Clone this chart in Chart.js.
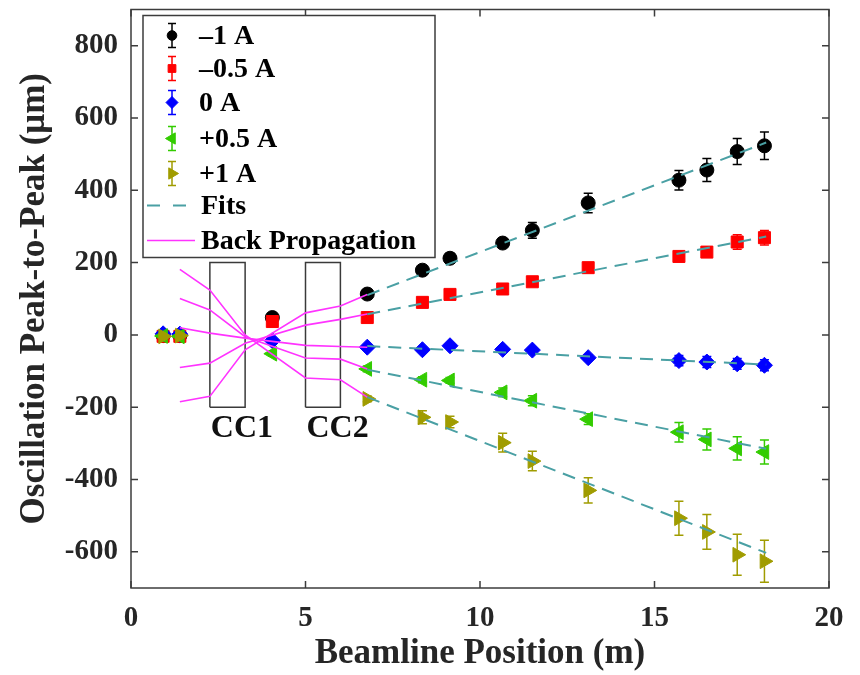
<!DOCTYPE html>
<html>
<head>
<meta charset="utf-8">
<script src="https://cdn.jsdelivr.net/npm/chart.js@4.4.1/dist/chart.umd.min.js"></script>
<style>
html,body{margin:0;padding:0;background:#ffffff;}
#wrap{width:860px;height:675px;position:relative;}
</style>
</head>
<body>
<div id="wrap"><canvas id="c" width="860" height="675"></canvas></div>
<script>
// ---------------- data ----------------
const xPos = [0.92, 1.4, 4.05, 6.77, 8.35, 9.14, 10.65, 11.5, 13.1, 15.7, 16.5, 17.37, 18.15];

const minus1A     = [-2, -2, 48, 113, 179, 212, 254, 289, 365, 428, 456, 507, 523];
const minus1AErr  = [5, 5, 6, 8, 8, 14, 12, 22, 27, 27, 32, 36, 38];
const minus05A    = [-4, -4, 37, 48, 90, 112, 127, 147, 186, 217, 229, 257, 269];
const minus05AErr = [4, 4, 5, 5, 5, 6, 6, 6, 8, 10, 12, 20, 20];
const zeroA       = [3, 2, -16, -34, -41, -30, -40, -42, -63, -71, -75, -80, -84];
const zeroAErr    = [4, 4, 5, 5, 6, 6, 7, 7, 8, 14, 15, 15, 15];
const plus05A     = [-3, -4, -52, -94, -124, -126, -159, -182, -233, -269, -289, -314, -324];
const plus05AErr  = [4, 4, 6, 8, 8, 8, 12, 14, 15, 27, 29, 32, 33];
const plus1A      = [-4, -2, null, -177, -228, -241, -298, -349, -430, -507, -545, -608, -626];
const plus1AErr   = [4, 4, null, 8, 18, 16, 26, 27, 35, 47, 48, 57, 58];

const seriesNames = ['\u20131 A', '\u20130.5 A', '0 A', '+0.5 A', '+1 A'];

// linear fits (end points)
const fitX        = [6.77, 18.2];
const fitMinus1A  = [110, 532];
const fitMinus05A = [57, 272];
const fitZeroA    = [-31, -82];
const fitPlus05A  = [-96, -315];
const fitPlus1A   = [-172, -603];

// back propagation polylines
const bpX        = [1.4, 2.26, 3.27, 5.0, 6.0, 6.77];
const bpMinus1A  = [-185, -170, -41, 61, 80, 112];
const bpMinus05A = [-90, -78, -23, 27, 43, 58];
const bpZeroA    = [20, 5, -9, -29, -32, -34];
const bpPlus05A  = [101, 69, -5, -64, -67, -94];
const bpPlus1A   = [181, 124, 0, -119, -124, -172];

// corrector coil boxes
const ccNames = ['CC1', 'CC2'];
const ccLeft  = [2.26, 5.0];
const ccRight = [3.27, 6.0];
const ccLow = -200, ccHigh = 200;

// axis ticks
const xTickValues = [0, 5, 10, 15, 20];
const yTickValues = [-600, -400, -200, 0, 200, 400, 600, 800];

// ---------------- styling ----------------
const SERIF = "'Liberation Serif','Times New Roman',serif";
const colors = ['#000000', '#ff0000', '#0000ff', '#33cc00', '#a09c00'];
const pStyles = ['circle', 'rect', 'rectRot', 'triangle', 'triangle'];
const pRot = [0, 0, 0, -90, 90];
const pRad = [7, 8.5, 8, 8.5, 8.5];
const fitColor = '#4aa0a4';
const bpColor = '#ff33ff';

const seriesVals = [minus1A, minus05A, zeroA, plus05A, plus1A];
const seriesErrs = [minus1AErr, minus05AErr, zeroAErr, plus05AErr, plus1AErr];
const fitVals = [fitMinus1A, fitMinus05A, fitZeroA, fitPlus05A, fitPlus1A];
const bpVals = [bpMinus1A, bpMinus05A, bpZeroA, bpPlus05A, bpPlus1A];

const datasets = [];
seriesVals.forEach((vals, i) => {
  datasets.push({
    label: seriesNames[i],
    data: xPos.map((x, j) => ({x: x, y: vals[j], e: seriesErrs[i][j]})).filter(p => p.y !== null),
    backgroundColor: colors[i],
    borderColor: colors[i],
    pointStyle: pStyles[i],
    rotation: pRot[i],
    pointRadius: pRad[i],
    pointBorderWidth: 1,
    showLine: false,
    order: 5 - i,
    isSeries: true
  });
});
fitVals.forEach((vals) => {
  datasets.push({
    label: 'Fits',
    data: fitX.map((x, j) => ({x: x, y: vals[j]})),
    showLine: true, borderColor: fitColor, borderWidth: 2, borderDash: [13, 8],
    pointRadius: 0, tension: 0, order: 0
  });
});
bpVals.forEach((vals) => {
  datasets.push({
    label: 'Back Propagation',
    data: bpX.map((x, j) => ({x: x, y: vals[j]})),
    showLine: true, borderColor: bpColor, borderWidth: 1.6,
    pointRadius: 0, tension: 0, order: 0
  });
});
ccNames.forEach((n, i) => {
  datasets.push({
    label: n,
    data: [
      {x: ccLeft[i], y: ccLow}, {x: ccLeft[i], y: ccHigh},
      {x: ccRight[i], y: ccHigh}, {x: ccRight[i], y: ccLow}, {x: ccLeft[i], y: ccLow}
    ],
    showLine: true, borderColor: '#3a3a3a', borderWidth: 1.5,
    pointRadius: 0, tension: 0, order: 10
  });
});

// ---------------- plugins ----------------
const errorBarPlugin = {
  id: 'errorBars',
  beforeDatasetDraw(chart, args) {
    const ds = chart.data.datasets[args.index];
    if (!ds.isSeries) return;
    const xs = chart.scales.x, ys = chart.scales.y, ctx = chart.ctx;
    ctx.save();
    ctx.strokeStyle = ds.borderColor;
    ctx.lineWidth = 1.5;
    ds.data.forEach(p => {
      if (p.e == null) return;
      const px = xs.getPixelForValue(p.x);
      const t = ys.getPixelForValue(p.y + p.e);
      const b = ys.getPixelForValue(p.y - p.e);
      const cw = 4.5;
      ctx.beginPath();
      ctx.moveTo(px, t); ctx.lineTo(px, b);
      ctx.moveTo(px - cw, t); ctx.lineTo(px + cw, t);
      ctx.moveTo(px - cw, b); ctx.lineTo(px + cw, b);
      ctx.stroke();
    });
    ctx.restore();
  }
};

function drawMarker(ctx, style, rot, x, y, r, color) {
  ctx.save();
  ctx.fillStyle = color; ctx.strokeStyle = color; ctx.lineWidth = 1;
  ctx.beginPath();
  if (style === 'circle') {
    ctx.arc(x, y, r, 0, Math.PI * 2);
  } else if (style === 'rect') {
    const s = r * Math.SQRT1_2;
    ctx.rect(x - s, y - s, 2 * s, 2 * s);
  } else if (style === 'rectRot') {
    ctx.moveTo(x, y - r); ctx.lineTo(x + r, y); ctx.lineTo(x, y + r); ctx.lineTo(x - r, y); ctx.closePath();
  } else if (style === 'triangle') {
    let a = rot * Math.PI / 180;
    for (let k = 0; k < 3; k++) {
      const px = x + Math.sin(a) * r, py = y - Math.cos(a) * r;
      if (k === 0) ctx.moveTo(px, py); else ctx.lineTo(px, py);
      a += 2 * Math.PI / 3;
    }
    ctx.closePath();
  }
  ctx.fill(); ctx.stroke();
  ctx.restore();
}

const decorPlugin = {
  id: 'decor',
  afterDraw(chart) {
    const ctx = chart.ctx, a = chart.chartArea, xs = chart.scales.x, ys = chart.scales.y;
    ctx.save();
    // CC labels
    ctx.fillStyle = '#111';
    ctx.font = 'bold 32px ' + SERIF;
    ctx.textAlign = 'left';
    ctx.textBaseline = 'alphabetic';
    ccNames.forEach((n, i) => {
      ctx.fillText(n, xs.getPixelForValue(ccLeft[i]) + 1, ys.getPixelForValue(-281));
    });
    // frame
    ctx.strokeStyle = '#3c3c3c';
    ctx.lineWidth = 1.5;
    ctx.strokeRect(a.left, a.top, a.right - a.left, a.bottom - a.top);
    const tl = 7;
    ctx.beginPath();
    xTickValues.forEach(v => {
      const px = xs.getPixelForValue(v);
      ctx.moveTo(px, a.bottom); ctx.lineTo(px, a.bottom - tl);
      ctx.moveTo(px, a.top); ctx.lineTo(px, a.top + tl);
    });
    yTickValues.forEach(v => {
      const py = ys.getPixelForValue(v);
      ctx.moveTo(a.left, py); ctx.lineTo(a.left + tl, py);
      ctx.moveTo(a.right, py); ctx.lineTo(a.right - tl, py);
    });
    ctx.stroke();

    // legend
    const lx = a.left + 12, ly = a.top + 6, lw = 292, lh = 242;
    ctx.fillStyle = '#ffffff';
    ctx.fillRect(lx, ly, lw, lh);
    ctx.strokeStyle = '#3c3c3c';
    ctx.lineWidth = 1.5;
    ctx.strokeRect(lx, ly, lw, lh);
    const rowY = [33, 66, 100, 136, 171, 203, 238].map(v => v - 13 + ly);
    const mx = lx + 29;
    const lRad = [4.8, 5.5, 6, 6.5, 6.5];
    ctx.font = 'bold 28px ' + SERIF;
    ctx.textBaseline = 'middle';
    ctx.textAlign = 'left';
    seriesNames.forEach((n, i) => {
      const y = rowY[i];
      ctx.strokeStyle = colors[i];
      ctx.lineWidth = 1.5;
      ctx.beginPath();
      ctx.moveTo(mx, y - 12); ctx.lineTo(mx, y + 12);
      ctx.moveTo(mx - 4, y - 12); ctx.lineTo(mx + 4, y - 12);
      ctx.moveTo(mx - 4, y + 12); ctx.lineTo(mx + 4, y + 12);
      ctx.stroke();
      drawMarker(ctx, pStyles[i], pRot[i], mx, y, lRad[i], colors[i]);
      ctx.fillStyle = '#000';
      ctx.fillText(n, lx + 56, y + 1);
    });
    // Fits
    ctx.strokeStyle = fitColor; ctx.lineWidth = 2; ctx.setLineDash([13, 13]);
    ctx.beginPath(); ctx.moveTo(lx + 4, rowY[5]); ctx.lineTo(lx + 46, rowY[5]); ctx.stroke();
    ctx.setLineDash([]);
    ctx.fillStyle = '#000';
    ctx.fillText('Fits', lx + 58, rowY[5] + 1);
    // Back propagation
    ctx.strokeStyle = bpColor; ctx.lineWidth = 1.6;
    ctx.beginPath(); ctx.moveTo(lx + 4, rowY[6]); ctx.lineTo(lx + 52, rowY[6]); ctx.stroke();
    ctx.fillText('Back Propagation', lx + 58, rowY[6] + 1);
    ctx.restore();
  }
};

// ---------------- chart ----------------
const tickFont = {family: SERIF, weight: 'bold', size: 29};
const titleFont = {family: SERIF, weight: 'bold', size: 35};

new Chart(document.getElementById('c'), {
  type: 'scatter',
  data: {datasets: datasets},
  options: {
    responsive: false,
    animation: false,
    devicePixelRatio: 1,
    layout: {padding: {top: 7, right: 31, left: 0, bottom: 0}},
    plugins: {legend: {display: false}, tooltip: {enabled: false}},
    scales: {
      x: {
        type: 'linear', min: 0, max: 20,
        afterBuildTicks: s => { s.ticks = xTickValues.map(v => ({value: v})); },
        afterFit: s => { s.height = 87; s.paddingLeft = 0; s.paddingRight = 0; },
        grid: {display: false, drawTicks: false},
        border: {display: false},
        ticks: {padding: 13, font: tickFont, color: '#262626', maxRotation: 0, autoSkip: false},
        title: {display: true, text: 'Beamline Position (m)', font: titleFont, color: '#262626', padding: {top: 0, bottom: 0}}
      },
      y: {
        type: 'linear', min: -700, max: 900,
        afterBuildTicks: s => { s.ticks = yTickValues.map(v => ({value: v})); },
        afterFit: s => { s.width = 131; s.paddingTop = 0; s.paddingBottom = 0; },
        grid: {display: false, drawTicks: false},
        border: {display: false},
        ticks: {padding: 13, font: tickFont, color: '#262626', autoSkip: false},
        title: {display: true, text: 'Oscillation Peak-to-Peak (\u03bcm)', font: titleFont, color: '#262626', padding: {top: 14, bottom: 0}}
      }
    }
  },
  plugins: [errorBarPlugin, decorPlugin]
});
</script>
</body>
</html>
